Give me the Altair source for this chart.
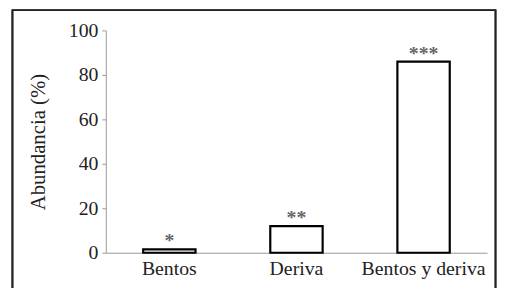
import altair as alt
import pandas as pd

categories = ["Bentos", "Deriva", "Bentos y deriva"]
values = [1.5, 12, 86]
marks = ["*", "**", "***"]

df = pd.DataFrame({"cat": categories, "val": values, "sig": marks})

FONT = "Liberation Serif"

x_enc = alt.X("cat:N", sort=categories,
              scale=alt.Scale(paddingInner=0, paddingOuter=0),
              axis=alt.Axis(title=None, labelAngle=0, ticks=False, domainColor="#999999",
                            labelFont=FONT, labelFontSize=20, labelColor="#222222",
                            labelPadding=6))
y_enc = alt.Y("val:Q", scale=alt.Scale(domain=[0, 100]),
              axis=alt.Axis(title="Abundancia (%)", values=[0, 20, 40, 60, 80, 100],
                            grid=False, domainColor="#999999", tickColor="#999999",
                            tickSize=4, labelFont=FONT, labelFontSize=20,
                            labelColor="#222222", labelPadding=4,
                            titleFont=FONT, titleFontSize=21, titleFontWeight="normal",
                            titleColor="#222222", titlePadding=20))

bars = alt.Chart(df).mark_bar(size=53, fill="white", stroke="black", strokeWidth=2.2).encode(
    x=x_enc, y=y_enc)

stars = alt.Chart(df).mark_text(font=FONT, fontSize=20, fontWeight="bold", color="#666666",
                                baseline="alphabetic", dy=-2).encode(
    x=alt.X("cat:N", sort=categories), y="val:Q", text="sig:N")

frame = alt.Chart(df).mark_rect(fill=None, stroke="#222222", strokeWidth=1.6).encode(
    x=alt.value(-94.5), x2=alt.value(394.5), y=alt.value(-20.5), y2=alt.value(300))

chart = alt.layer(bars, stars, frame).properties(
    width=386, height=225,
    autosize=alt.AutoSizeParams(type="none"),
    padding={"left": 99, "top": 21, "right": 10, "bottom": 34},
).configure_view(stroke=None)

chart.save("out.html", embed_options={"renderer": "svg", "actions": False})
